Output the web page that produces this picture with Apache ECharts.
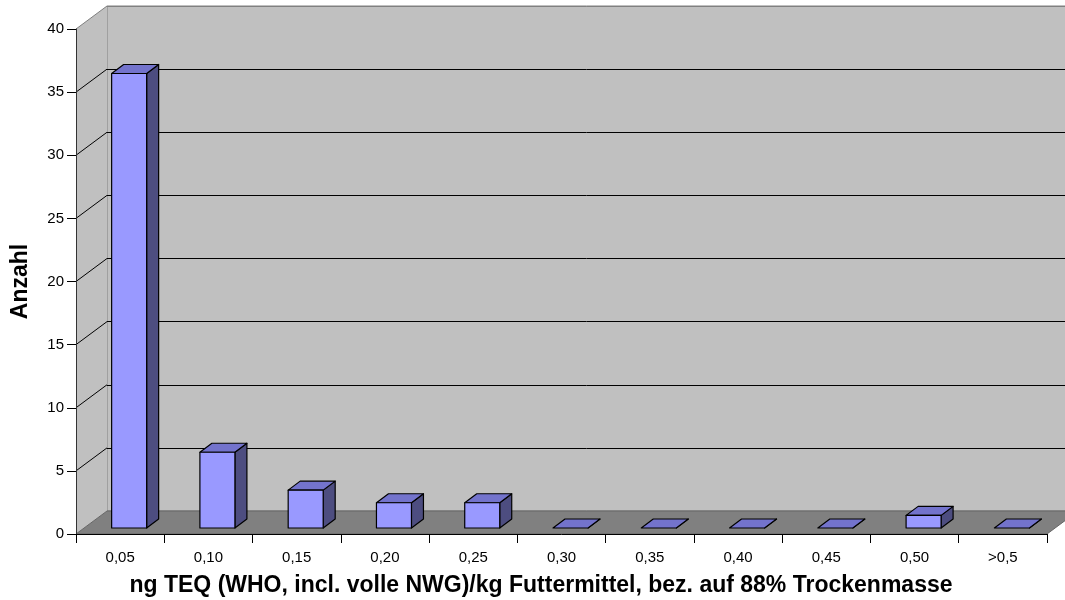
<!DOCTYPE html>
<html>
<head>
<meta charset="utf-8">
<title>Anzahl</title>
<script src="https://cdn.jsdelivr.net/npm/echarts@6/dist/echarts.min.js"></script>
<style>
  html, body { margin: 0; padding: 0; background: #fff; }
  #chart { width: 1065px; height: 600px; }
</style>
</head>
<body>
<div id="chart"></div>
<script>
// Daten
const categories = ['0,05', '0,10', '0,15', '0,20', '0,25', '0,30', '0,35', '0,40', '0,45', '0,50', '>0,5'];
const counts = [36, 6, 3, 2, 2, 0, 0, 0, 0, 1, 0];
const yMin = 0;
const yMax = 40;
const yStep = 5;

// 3D-Optik: Versatz der Rückwand und Tiefe der Säulen (px)
const WALL_DX = 31, WALL_DY = 23;
const BAR_OFF_DX = 8, BAR_OFF_DY = 6;
const BAR_DX = 12, BAR_DY = 9;
const BAR_W = 35;

const chart = echarts.init(document.getElementById('chart'), null, { renderer: 'canvas' });

// Seitenwand + Boden + Diagonalen
function renderFrame(params, api) {
  const cs = params.coordSys;
  const x = cs.x, yTop = cs.y, yBot = cs.y + cs.height, r = cs.x + cs.width;
  const children = [
    {
      type: 'polygon',
      shape: { points: [[x, yTop], [x + WALL_DX, yTop - WALL_DY], [x + WALL_DX, yBot - WALL_DY], [x, yBot]] },
      style: { fill: '#c0c0c0' }
    },
    {
      type: 'polygon',
      shape: { points: [[x, yBot], [r, yBot], [r + WALL_DX, yBot - WALL_DY], [x + WALL_DX, yBot - WALL_DY]] },
      style: { fill: '#808080', stroke: '#666', lineWidth: 1 }
    },
    {
      type: 'line',
      shape: { x1: x, y1: yTop, x2: x + WALL_DX, y2: yTop - WALL_DY },
      style: { stroke: '#808080', lineWidth: 1 }
    }
  ];
  for (let v = yMin + yStep; v < yMax; v += yStep) {
    const y = api.coord([0, v])[1];
    children.push({
      type: 'line',
      shape: { x1: x, y1: y, x2: x + WALL_DX, y2: y - WALL_DY },
      style: { stroke: '#000', lineWidth: 1 }
    });
  }
  return { type: 'group', children };
}

// 3D-Säule
function renderBar(params, api) {
  const i = api.value(0);
  const v = api.value(1);
  const base = api.coord([i, 0]);
  const top = api.coord([i, v]);
  const x0 = base[0] - BAR_W / 2 + BAR_OFF_DX + 1;
  const x1 = x0 + BAR_W;
  const yb = base[1] - BAR_OFF_DY;
  const yt = top[1] - BAR_OFF_DY;
  const line = { stroke: '#000', lineWidth: 1.2, lineJoin: 'round' };
  const children = [
    {
      type: 'polygon',
      shape: { points: [[x1, yt], [x1 + BAR_DX, yt - BAR_DY], [x1 + BAR_DX, yb - BAR_DY], [x1, yb]] },
      style: Object.assign({ fill: '#4d4d80' }, line)
    },
    {
      type: 'polygon',
      shape: { points: [[x0, yt], [x1, yt], [x1 + BAR_DX, yt - BAR_DY], [x0 + BAR_DX, yt - BAR_DY]] },
      style: Object.assign({ fill: '#7373cc' }, line)
    }
  ];
  if (yb - yt > 0.5) {
    children.push({
      type: 'rect',
      shape: { x: x0, y: yt, width: BAR_W, height: yb - yt },
      style: Object.assign({ fill: '#9999ff' }, line)
    });
  }
  return { type: 'group', children };
}

const option = {
  animation: false,
  backgroundColor: '#fff',
  textStyle: { fontFamily: 'Liberation Sans, Arial, sans-serif' },
  title: {
    text: 'ng TEQ (WHO, incl. volle NWG)/kg Futtermittel, bez. auf 88% Trockenmasse',
    left: 541,
    top: 574,
    textAlign: 'center',
    padding: 0,
    textStyle: { fontSize: 23, fontWeight: 'bold', color: '#000', fontFamily: 'Liberation Sans, Arial, sans-serif' }
  },
  grid: [
    { left: 76, top: 29, width: 971, height: 505, show: false, outerBoundsMode: 'none', containLabel: false },
    { left: 76 + WALL_DX, top: 29 - WALL_DY, width: 971, height: 505, show: true,
      outerBoundsMode: 'none', containLabel: false,
      backgroundColor: '#c0c0c0', borderColor: '#808080', borderWidth: 1 }
  ],
  xAxis: [
    {
      type: 'category',
      gridIndex: 0,
      data: categories,
      z: 5,
      axisLine: { show: true, lineStyle: { color: '#000', width: 1 } },
      axisTick: { show: true, length: 9, lineStyle: { color: '#000' } },
      axisLabel: { fontSize: 15, color: '#000', margin: 16 },
      splitLine: { show: false }
    },
    {
      type: 'category',
      gridIndex: 1,
      data: categories,
      show: false
    }
  ],
  yAxis: [
    {
      type: 'value',
      gridIndex: 0,
      min: yMin,
      max: yMax,
      interval: yStep,
      z: 5,
      name: 'Anzahl',
      nameLocation: 'middle',
      nameGap: 44,
      nameTextStyle: { fontSize: 23, fontWeight: 'bold', color: '#000' },
      axisLine: { show: true, lineStyle: { color: '#333', width: 1 } },
      axisTick: { show: true, length: 9, lineStyle: { color: '#000' } },
      axisLabel: { fontSize: 15, color: '#000', margin: 12 },
      splitLine: { show: false }
    },
    {
      type: 'value',
      gridIndex: 1,
      min: yMin,
      max: yMax,
      interval: yStep,
      axisLine: { show: false },
      axisTick: { show: false },
      axisLabel: { show: false },
      splitLine: {
        show: true,
        lineStyle: { color: ['#808080', '#000', '#000', '#000', '#000', '#000', '#000', '#000', '#808080'], width: 1 }
      }
    }
  ],
  series: [
    {
      type: 'custom',
      name: 'frame',
      xAxisIndex: 0,
      yAxisIndex: 0,
      z: 1,
      silent: true,
      renderItem: renderFrame,
      data: [[0, 0]]
    },
    {
      type: 'custom',
      name: 'Anzahl',
      xAxisIndex: 0,
      yAxisIndex: 0,
      z: 3,
      renderItem: renderBar,
      encode: { x: 0, y: 1 },
      data: counts.map((v, i) => [i, v])
    }
  ]
};

chart.setOption(option);
window.addEventListener('resize', () => chart.resize());
</script>
</body>
</html>
